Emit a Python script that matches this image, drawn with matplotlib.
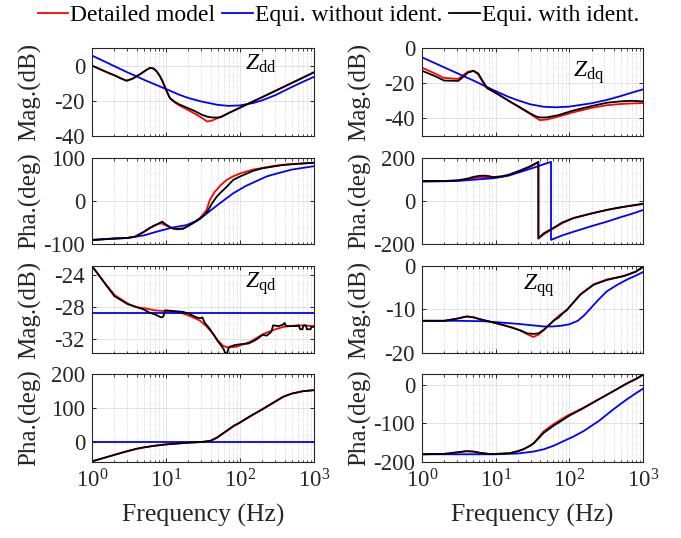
import numpy as np
import matplotlib
matplotlib.use("Agg")
import matplotlib.pyplot as plt
from matplotlib.ticker import LogLocator, NullFormatter

plt.rcParams['font.family'] = ['Liberation Serif', 'DejaVu Serif']
plt.rcParams['mathtext.fontset'] = 'custom'
plt.rcParams['mathtext.rm'] = 'Liberation Serif'
plt.rcParams['mathtext.it'] = 'Liberation Serif:italic'
plt.rcParams['axes.unicode_minus'] = False

# ---------------- data ----------------
legend_labels = ["Detailed model", "Equi. without ident.", "Equi. with ident."]
series_colors = ["#ff0000", "#0000ff", "#000000"]
panel_titles = ["dd", "dq", "qd", "qq"]
xtick_vals = [1, 10, 100, 1000]
xtick_labels = [r"$10^{0}$", r"$10^{1}$", r"$10^{2}$", r"$10^{3}$"]

# Zdd magnitude
f_dd_m_det = [1, 1.5, 2, 2.5, 2.94, 3.5, 4, 4.5, 5, 5.5, 6.1, 6.8, 7.5, 8.3, 9, 10, 11.3, 13, 15, 20, 25, 30, 36, 42, 50, 55, 70, 100, 200, 500, 1000]
v_dd_m_det = [0, -3.3, -5.5, -7.4, -8.6, -7.5, -6.1, -4.8, -3.5, -2.3, -1.3, -1.7, -3.3, -6.1, -9.0, -13.7, -18.5, -20.8, -22.5, -25.3, -27.5, -29.5, -31.8, -31.2, -29.8, -29.3, -27.0, -23.9, -17.9, -9.9, -3.8]
f_dd_m_wo = [1, 1.5, 2, 3, 4, 5, 7, 10, 15, 20, 30, 50, 70, 100, 150, 200, 300, 500, 700, 1000]
v_dd_m_wo = [5.7, 2.2, -0.3, -3.8, -6.1, -8.0, -10.6, -13.3, -16.5, -18.4, -20.4, -22.3, -22.9, -22.6, -21.3, -19.7, -16.8, -12.2, -9.3, -6.4]
f_dd_m_w = [1, 1.5, 2, 2.5, 2.94, 3.5, 4, 4.5, 5, 5.5, 6.1, 6.8, 7.5, 8.3, 9, 10, 11.3, 13, 15, 20, 25, 30, 36, 42, 50, 55, 70, 100, 200, 500, 1000]
v_dd_m_w = [0, -3.3, -5.5, -7.4, -8.6, -7.5, -6.1, -4.8, -3.5, -2.3, -1.3, -1.7, -3.3, -6.1, -9.0, -13.7, -18.5, -20.5, -22.0, -24.2, -26.0, -27.8, -29.0, -29.5, -29.5, -29.2, -27.0, -23.9, -17.9, -9.9, -3.8]

# Zdd phase
f_dd_p_det = [1, 2, 3, 3.8, 5, 6, 7, 8, 8.7, 10, 12, 14, 17, 20, 25, 28.7, 32, 35.4, 39, 45, 55, 66, 80, 100, 150, 200, 300, 500, 1000]
v_dd_p_det = [-91, -87, -86, -83, -72, -63, -57, -53, -52, -57, -63, -66, -65, -58, -48, -40, -30, -21, 2, 20, 37, 49, 57, 64, 73, 77, 82, 86, 89]
f_dd_p_wo = [1, 2, 3, 5, 8, 12, 19, 25, 35.6, 50, 81, 120, 228, 300, 500, 1000]
v_dd_p_wo = [-90, -88, -86, -80, -70, -62, -56, -47, -29, -9, 18, 35, 57, 63, 73, 81]
f_dd_p_w = [1, 2, 3, 3.8, 5, 6, 7, 8, 8.9, 10, 12.3, 14, 17, 20, 25, 28.7, 33, 37.3, 42, 48.5, 53.5, 66, 81, 100, 150, 200, 385, 1000]
v_dd_p_w = [-91, -87, -86, -83, -72, -63, -57, -52, -48, -55, -64, -65, -64, -58, -48, -42, -33, -21, -5, 10, 18, 33, 49, 57, 70, 76, 84, 89]

# Zdq magnitude
f_dq_m_det = [1, 1.5, 1.95, 2.5, 3.1, 3.6, 4.2, 5, 5.8, 6.6, 7.6, 10.3, 15, 20, 29.5, 35, 40, 50, 70, 114, 200, 324, 500, 700, 1000]
v_dq_m_det = [-11.2, -14.5, -16.9, -17.3, -17.6, -15.5, -13.5, -12.9, -15.0, -19.0, -22.9, -25.8, -30.0, -33.2, -37.5, -39.5, -41.0, -40.6, -39.0, -36.5, -34.0, -32.5, -31.8, -31.5, -31.3]
f_dq_m_wo = [1, 2, 3, 5, 9.3, 15, 20, 29.5, 45, 67, 100, 200, 324, 500, 700, 1000]
v_dq_m_wo = [-5.3, -11.0, -14.3, -18.5, -23.9, -27.8, -29.7, -32.0, -33.4, -33.7, -33.3, -31.4, -29.5, -27.3, -25.4, -23.5]
f_dq_m_w = [1, 1.5, 2, 3.1, 3.6, 4.2, 5, 5.8, 6.6, 7.6, 10.3, 15, 20, 29.5, 35, 40, 50, 70, 114, 200, 324, 500, 700, 1000]
v_dq_m_w = [-12.9, -16.0, -18.5, -18.7, -16.5, -14.0, -13.0, -14.5, -18.5, -22.5, -25.8, -30.0, -33.0, -37.2, -38.8, -39.5, -39.4, -38.2, -35.5, -33.0, -31.1, -30.3, -30.0, -30.3]

# Zdq phase
f_dq_p_det = [1, 2, 3, 4, 5, 6, 7, 8, 9.3, 12, 15, 21.5, 30, 38, 38.01, 45, 61, 80, 114, 200, 324, 500, 700, 1000]
v_dq_p_det = [93, 93, 95, 100, 106, 110, 111, 109, 107, 112, 120, 140, 160, 180, -173, -155, -127, -103, -80, -58, -42, -30, -22, -14]
f_dq_p_wo = [1, 3, 9.3, 15, 24, 35, 45, 56.4, 56.41, 80, 114, 200, 324, 500, 700, 1000]
v_dq_p_wo = [90, 93, 106, 118, 140, 158, 171, 182, -181, -160, -143, -117, -96, -75, -60, -42]
f_dq_p_w = [1, 2, 3, 4, 5, 6, 7, 8, 9.3, 12, 15, 21.5, 30, 38, 38.01, 45, 61, 80, 114, 200, 324, 500, 700, 1000]
v_dq_p_w = [93, 93, 96, 103, 112, 117, 118, 116, 111, 115, 122, 142, 163, 182, -175, -150, -125, -100, -79, -58, -41, -29, -21, -13]

# Zqd magnitude
f_qd_m_det = [1, 1.5, 2.04, 3.1, 4, 5.5, 7, 9.7, 13, 17, 22, 28.7, 35, 43.5, 50, 59, 70, 90, 136, 206, 300, 385, 600, 1000]
v_qd_m_det = [-22.8, -25.0, -26.5, -27.6, -28.0, -28.2, -28.4, -28.5, -28.6, -28.8, -29.2, -29.7, -30.4, -31.4, -32.2, -32.9, -33.1, -33.0, -32.4, -31.4, -30.8, -30.5, -30.3, -30.4]
f_qd_m_wo = [1, 1000]
v_qd_m_wo = [-28.7, -28.7]
f_qd_m_w = [1, 2, 3, 4, 5, 6, 7, 8.6, 9.2, 9.7, 13, 17, 20, 23.4, 26, 29, 31, 33.5, 38, 43.5, 50, 55, 60, 63, 67, 70, 73, 85, 100, 130, 160, 190, 200, 230, 266, 280, 330, 385, 400, 420, 500, 600, 620, 650, 700, 720, 780, 800, 900, 920, 1000]
v_qd_m_w = [-22.8, -26.6, -27.6, -28.0, -28.3, -28.7, -28.9, -29.3, -29.2, -28.4, -28.5, -28.6, -28.8, -29.1, -29.3, -29.4, -29.3, -30.0, -30.6, -31.4, -32.3, -32.8, -33.3, -33.8, -33.8, -33.2, -33.0, -32.8, -32.7, -32.6, -32.2, -31.7, -31.5, -31.6, -31.1, -30.3, -30.4, -30.2, -30.0, -30.4, -30.4, -30.4, -30.3, -30.8, -30.8, -30.3, -30.3, -30.8, -30.8, -30.5, -30.5]

# Zqd phase
f_qd_p_det = [1, 1.5, 2, 3, 4, 5, 7, 10, 15, 20, 30, 40, 48.5, 60, 81, 100, 136, 200, 300, 385, 500, 700, 1000]
v_qd_p_det = [-58, -47, -39, -28, -21, -17, -12, -8, -5, -3, -1, 2, 11, 25, 45, 56, 74, 95, 118, 133, 142, 149, 153]
f_qd_p_wo = [1, 1000]
v_qd_p_wo = [0, 0]
f_qd_p_w = [1, 1.5, 2, 3, 4, 5, 7, 10, 15, 20, 30, 40, 48.5, 60, 81, 100, 136, 200, 300, 385, 500, 700, 1000]
v_qd_p_w = [-58, -47, -39, -28, -21, -17, -12, -8, -5, -3, -1, 3, 12, 26, 46, 57, 75, 96, 119, 133, 142, 149, 152]

# Zqq magnitude
f_qq_m_det = [1, 2, 3, 4.05, 5, 6, 8.4, 12.8, 17, 21.5, 27, 32.6, 38, 44.6, 52, 61.2, 75, 92.7, 141, 214, 324, 551, 800, 1000]
v_qq_m_det = [-12.6, -12.6, -12.1, -11.6, -11.8, -12.2, -12.8, -13.6, -14.2, -14.8, -15.7, -16.3, -15.8, -14.8, -13.7, -12.5, -11.2, -10.1, -6.5, -4.2, -3.1, -2.3, -1.3, -0.2]
f_qq_m_wo = [1, 3, 7, 10, 20, 30, 45, 60, 80, 100, 130, 160, 200, 250, 324, 450, 610, 800, 1000]
v_qq_m_wo = [-12.6, -12.6, -12.7, -12.9, -13.3, -13.6, -13.9, -13.9, -13.7, -13.4, -12.6, -11.3, -9.5, -7.7, -5.8, -4.3, -3.1, -2.2, -1.4]
f_qq_m_w = [1, 2, 3, 4.05, 5, 6, 8.4, 12.8, 17, 21.5, 27, 32.6, 38, 44.6, 52, 61.2, 72, 76, 80, 92.7, 141, 214, 324, 551, 800, 1000]
v_qq_m_w = [-12.6, -12.6, -12.1, -11.6, -11.8, -12.2, -12.8, -13.6, -14.2, -14.8, -15.5, -15.6, -15.5, -14.7, -13.7, -12.6, -11.8, -11.4, -11.0, -10.1, -6.6, -4.3, -3.2, -2.3, -1.3, -0.2]

# Zqq phase
f_qq_p_det = [1, 2, 3, 4, 5, 6, 8, 10, 13, 15.7, 20, 23.8, 28, 32.6, 38, 44.6, 60, 80, 98, 150, 265, 400, 610, 800, 1000]
v_qq_p_det = [-180, -179, -175, -172, -173, -176, -179, -179, -178, -177, -172, -167, -160, -152, -137, -121, -103, -88, -78, -61, -35, -16, 4, 15, 26]
f_qq_p_wo = [1, 10, 20, 32.6, 45, 61, 90, 114, 156, 250, 400, 600, 800, 1000]
v_qq_p_wo = [-180, -180, -178, -173, -167, -158, -143, -134, -120, -94, -63, -38, -22, -10]
f_qq_p_w = [1, 2, 3, 4, 5, 6, 8, 10, 13, 15.7, 20, 23.8, 28, 32.6, 38, 44.6, 60, 80, 98, 150, 265, 400, 610, 800, 1000]
v_qq_p_w = [-180, -179, -175, -172, -173, -176, -179, -179, -178, -177, -172, -167, -160, -152, -139, -125, -107, -92, -81, -62, -35, -16, 4, 15, 26]

# ---------------- layout ----------------
W, H = 681, 538
fig = plt.figure(figsize=(W / 100, H / 100), dpi=100)

col_x = [(92, 314), (422, 643)]
row_y = [(48, 136), (158, 244), (266, 353), (374, 462)]

def make_ax(r, c):
    x0, x1 = col_x[c]
    y0, y1 = row_y[r]
    return fig.add_axes([x0 / W, 1 - y1 / H, (x1 - x0) / W, (y1 - y0) / H])

panels = [
    (0, 0, [(f_dd_m_det, v_dd_m_det), (f_dd_m_wo, v_dd_m_wo), (f_dd_m_w, v_dd_m_w)], (-40, 10), [-40, -20, 0], "Mag.(dB)", "dd", (0.69, 0.75)),
    (1, 0, [(f_dd_p_det, v_dd_p_det), (f_dd_p_wo, v_dd_p_wo), (f_dd_p_w, v_dd_p_w)], (-100, 100), [-100, 0, 100], "Pha.(deg)", None, None),
    (2, 0, [(f_qd_m_det, v_qd_m_det), (f_qd_m_wo, v_qd_m_wo), (f_qd_m_w, v_qd_m_w)], (-33.8, -22.8), [-32, -28, -24], "Mag.(dB)", "qd", (0.69, 0.745)),
    (3, 0, [(f_qd_p_det, v_qd_p_det), (f_qd_p_wo, v_qd_p_wo), (f_qd_p_w, v_qd_p_w)], (-60, 200), [0, 100, 200], "Pha.(deg)", None, None),
    (0, 1, [(f_dq_m_det, v_dq_m_det), (f_dq_m_wo, v_dq_m_wo), (f_dq_m_w, v_dq_m_w)], (-50, 0), [-40, -20, 0], "Mag.(dB)", "dq", (0.683, 0.67)),
    (1, 1, [(f_dq_p_det, v_dq_p_det), (f_dq_p_wo, v_dq_p_wo), (f_dq_p_w, v_dq_p_w)], (-200, 200), [-200, 0, 200], "Pha.(deg)", None, None),
    (2, 1, [(f_qq_m_det, v_qq_m_det), (f_qq_m_wo, v_qq_m_wo), (f_qq_m_w, v_qq_m_w)], (-20, 0), [-20, -10, 0], "Mag.(dB)", "qq", (0.458, 0.724)),
    (3, 1, [(f_qq_p_det, v_qq_p_det), (f_qq_p_wo, v_qq_p_wo), (f_qq_p_w, v_qq_p_w)], (-200, 28), [-200, -100, 0], "Pha.(deg)", None, None),
]

axcol = "#262626"
handles = None
for (r, c, series, ylim, yt, ylab, zl, zpos) in panels:
    ax = make_ax(r, c)
    lines = []
    for (f, v), col in zip(series, series_colors):
        ln, = ax.semilogx(f, v, color=col, lw=1.3)
        lines.append(ln)
    handles = lines
    ax.set_xlim(1, 1000)
    ax.set_ylim(*ylim)
    ax.set_yticks(yt)
    ax.set_xticks(xtick_vals)
    ax.xaxis.set_minor_locator(LogLocator(base=10, subs=np.arange(2, 10)))
    ax.xaxis.set_minor_formatter(NullFormatter())
    if r == 3:
        ax.set_xticklabels(xtick_labels)
        ax.set_xlabel("Frequency (Hz)", fontsize=18.5, color=axcol, labelpad=8)
    else:
        ax.set_xticklabels([])
    ax.set_ylabel(ylab, fontsize=18, color=axcol)
    ax.yaxis.set_label_coords(-0.23, 0.5)
    ax.tick_params(which='both', direction='in', top=True, right=True, colors=axcol, labelsize=16.5)
    ax.tick_params(axis='y', pad=5)
    ax.tick_params(axis='x', pad=5.5)
    ax.tick_params(which='major', length=3, width=0.7)
    ax.tick_params(which='minor', length=1.8, width=0.6)
    ax.grid(True, which='major', color='#dedede', lw=0.6)
    ax.grid(True, which='minor', axis='x', color='#c8c8c8', lw=0.6, ls=':')
    ax.set_axisbelow(True)
    for s in ax.spines.values():
        s.set_color(axcol)
        s.set_linewidth(0.8)
    if zl:
        ax.text(zpos[0], zpos[1], r"$Z_{\mathrm{%s}}$" % zl, transform=ax.transAxes,
                fontsize=17, color='black', va='baseline', ha='left')

fig.legend(handles, legend_labels, loc='center', bbox_to_anchor=(0.497, 1 - 15 / H), ncol=3,
           frameon=False, fontsize=17, handlelength=1.3, handletextpad=0.08,
           columnspacing=0.3, borderaxespad=0, borderpad=0)

fig.savefig("out.png", dpi=100)
